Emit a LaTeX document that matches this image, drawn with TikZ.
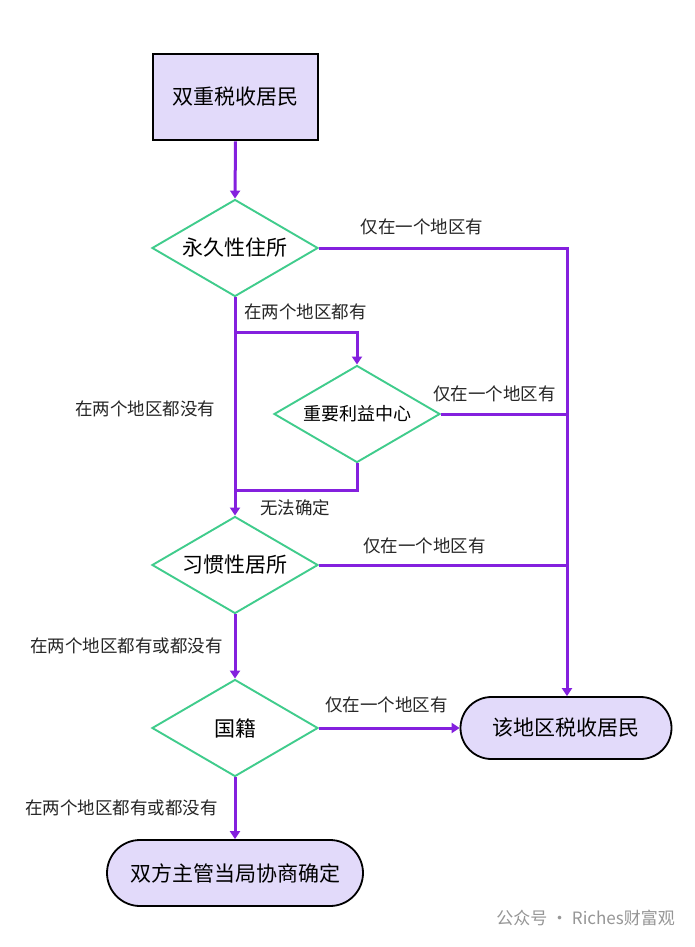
\documentclass[tikz,border=0pt]{standalone}
\usepackage{fontspec}
\setmainfont{Noto Sans CJK SC}
\usetikzlibrary{shapes.geometric,shapes.misc,arrows.meta}
\definecolor{flow}{RGB}{132,32,222}
\definecolor{dgreen}{RGB}{64,204,140}
\definecolor{lav}{RGB}{226,218,250}
\definecolor{wm}{RGB}{150,150,150}
\tikzset{
  startbox/.style={draw=black,line width=2.6pt,fill=lav,minimum width=165pt,minimum height=86pt,inner sep=0pt,font=\fontsize{21}{24}\selectfont},
  decide/.style={diamond,draw=dgreen,line width=1.9pt,fill=white,minimum width=166pt,minimum height=97pt,inner sep=0pt,aspect=1.71,font=\fontsize{21}{24}\selectfont},
  decidesm/.style={decide,font=\fontsize{18}{21}\selectfont},
  term/.style={rounded rectangle,draw=black,line width=1.8pt,fill=lav,inner sep=0pt,font=\fontsize{21}{24}\selectfont},
  flowline/.style={draw=flow,line width=3pt},
  flowarr/.style={flowline,-{Triangle[length=8pt,width=10pt]}},
  lbl/.style={font=\fontsize{17.5}{20}\selectfont,inner sep=0pt,text=black!85},
}
\begin{document}
\begin{tikzpicture}[x=1pt,y=-1pt]
\useasboundingbox (0,0) rectangle (695,947);
\fill[white] (0,0) rectangle (695,947);
% nodes
\node[startbox] (start) at (235.5,97) {双重税收居民};
\node[decide] (d1) at (235,248) {永久性住所};
\node[decidesm] (d2) at (357,414) {重要利益中心};
\node[decide] (d3) at (235,565) {习惯性居所};
\node[decide] (d4) at (235,728) {国籍};
\node[term,minimum width=211pt,minimum height=62pt] (t1) at (566,728) {该地区税收居民};
\node[term,minimum width=256pt,minimum height=66pt] (t2) at (235,873) {双方主管当局协商确定};
% helper coordinates
\coordinate (trunk) at (567,248);
\coordinate (br) at (235,332);
\coordinate (brr) at (357,332);
\coordinate (d2b) at (357,490);
\coordinate (d2bl) at (235,490);
% connectors
\draw[flowarr] (start.south) -- (d1.north);
\draw[flowarr] (d1.east) -- (trunk) -- (trunk |- t1.north);
\draw[flowarr] (d1.south) -- (d3.north);
\draw[flowarr] (br) -- (brr) -- (d2.north);
\draw[flowline] (d2.east) -- (d2.east -| trunk);
\draw[flowline] (d2.south) -- (d2b) -- (d2bl);
\draw[flowline] (d3.east) -- (d3.east -| trunk);
\draw[flowarr] (d3.south) -- (d4.north);
\draw[flowarr] (d4.east) -- (t1.west);
\draw[flowarr] (d4.south) -- (t2.north);
% labels
\node[lbl] (l1) at (422,227) {仅在一个地区有};
\node[lbl,anchor=west] (l2) at (244,312) {在两个地区都有};
\node[lbl,anchor=west] (l3) at (75,409) {在两个地区都没有};
\node[lbl,anchor=west] (l4) at (433,394) {仅在一个地区有};
\node[lbl,anchor=west] (l5) at (260,508) {无法确定};
\node[lbl,anchor=west] (l6) at (363,546) {仅在一个地区有};
\node[lbl,anchor=west] (l7) at (30,646) {在两个地区都有或都没有};
\node[lbl,anchor=west] (l8) at (325,705) {仅在一个地区有};
\node[lbl,anchor=west] (l9) at (25,808) {在两个地区都有或都没有};
% watermark
\node[anchor=east,text=wm,font=\fontsize{17}{20}\selectfont,inner sep=0pt] (wmark) at (675,918) {公众号 · Riches财富观};
\end{tikzpicture}
\end{document}
